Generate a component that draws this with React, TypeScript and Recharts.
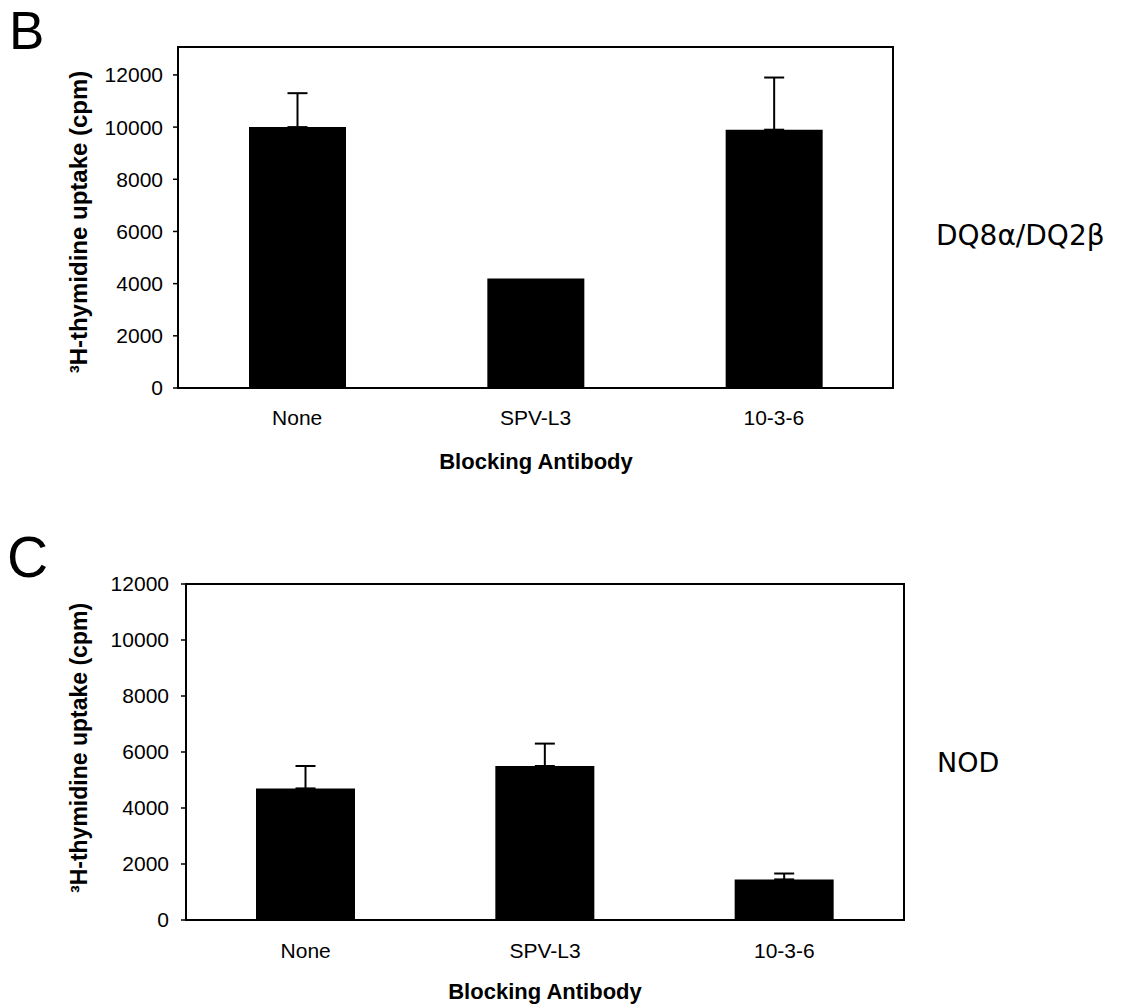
import React from 'react';
import { BarChart, Bar, XAxis, YAxis, ErrorBar, ReferenceArea } from 'recharts';

// Blocking antibodies on the x axis
const categories = ['None', 'SPV-L3', '10-3-6'];

// Panel B: DQ8α/DQ2β — mean ³H-thymidine uptake (cpm) and its upper error (null = none drawn)
const dq8Means = [10000, 4200, 9900];
const dq8Errors: (number | null)[] = [1300, null, 2000];

// Panel C: NOD — mean ³H-thymidine uptake (cpm) and its upper error
const nodMeans = [4700, 5500, 1450];
const nodErrors: (number | null)[] = [800, 800, 210];

const yTicks = [0, 2000, 4000, 6000, 8000, 10000, 12000];

// error bars are drawn upwards only
const buildRows = (means: number[], errors: (number | null)[]) =>
  categories.map((name, i) => ({
    name,
    value: means[i],
    err: errors[i] == null ? null : [0, errors[i] as number],
  }));

const dq8Rows = buildRows(dq8Means, dq8Errors);
const nodRows = buildRows(nodMeans, nodErrors);

const tickFont = { fontFamily: 'Liberation Sans, Arial, sans-serif', fontSize: 21, fill: '#000' };

type PanelProps = {
  rows: { name: string; value: number; err: number[] | null }[];
  top: number;
  height: number;
  margin: { top: number; right: number; bottom: number; left: number };
  yWidth: number;
  yMax: number;
  barSize: number;
  yTickMargin: number;
  xTickMargin: number;
};

function Panel({ rows, top, height, margin, yWidth, yMax, barSize, yTickMargin, xTickMargin }: PanelProps) {
  return (
    <div style={{ position: 'absolute', left: 0, top, width: 1133, height }}>
      <BarChart width={1133} height={height} data={rows} margin={margin} barCategoryGap={0}>
        <XAxis
          dataKey="name"
          height={40}
          axisLine={{ stroke: '#000', strokeWidth: 2 }}
          tickLine={false}
          tickSize={0}
          tickMargin={xTickMargin}
          tick={tickFont}
          interval={0}
        />
        <YAxis
          width={yWidth}
          domain={[0, yMax]}
          ticks={yTicks}
          allowDataOverflow
          axisLine={{ stroke: '#000', strokeWidth: 2 }}
          tickLine={{ stroke: '#000', strokeWidth: 1.5 }}
          tickSize={5}
          tickMargin={yTickMargin}
          tick={tickFont}
        />
        {/* plot frame around the whole plotting area */}
        <ReferenceArea y1={0} y2={yMax} fill="none" stroke="#000" strokeWidth={2} ifOverflow="visible" />
        <Bar dataKey="value" fill="#000" barSize={barSize} isAnimationActive={false}>
          <ErrorBar dataKey="err" width={10} stroke="#000" strokeWidth={2} direction="y" />
        </Bar>
      </BarChart>
    </div>
  );
}

const titleFont = { fontFamily: 'Liberation Sans, Arial, sans-serif', fontWeight: 700, fill: '#000' } as const;
const sideFont = { fontFamily: 'DejaVu Sans, sans-serif', fill: '#000' } as const;

export default function App() {
  return (
    <div style={{ position: 'absolute', left: 0, top: 0, width: 1133, height: 1008, background: '#fff' }}>
      <Panel
        rows={dq8Rows}
        top={0}
        height={500}
        margin={{ top: 47, right: 240, bottom: 72, left: 0 }}
        yWidth={178}
        yMax={13070}
        barSize={97}
        yTickMargin={10}
        xTickMargin={22}
      />
      <Panel
        rows={nodRows}
        top={504}
        height={504}
        margin={{ top: 80, right: 229, bottom: 48, left: 0 }}
        yWidth={186}
        yMax={12000}
        barSize={99}
        yTickMargin={12}
        xTickMargin={23}
      />
      <svg
        width={1133}
        height={1008}
        style={{ position: 'absolute', left: 0, top: 0, pointerEvents: 'none' }}
      >
        {/* panel letters */}
        <text x={9} y={49} fontFamily="Liberation Sans, Arial, sans-serif" fontSize={53} fill="#000">B</text>
        <text x={7} y={577} fontFamily="Liberation Sans, Arial, sans-serif" fontSize={57} fill="#000">C</text>

        {/* axis titles, panel B */}
        <text x={536} y={469} textAnchor="middle" fontSize={22} {...titleFont}>Blocking Antibody</text>
        <text x={87} y={222} textAnchor="middle" fontSize={24} transform="rotate(-90 87 222)" {...titleFont}>
          ³H-thymidine uptake (cpm)
        </text>

        {/* axis titles, panel C */}
        <text x={545} y={999} textAnchor="middle" fontSize={22} {...titleFont}>Blocking Antibody</text>
        <text x={87} y={748} textAnchor="middle" fontSize={23} transform="rotate(-90 87 748)" {...titleFont}>
          ³H-thymidine uptake (cpm)
        </text>

        {/* strain labels */}
        <text x={936} y={245} fontSize={28} {...sideFont}>DQ8α/DQ2β</text>
        <text x={937} y={772} fontSize={27} {...sideFont}>NOD</text>
      </svg>
    </div>
  );
}
